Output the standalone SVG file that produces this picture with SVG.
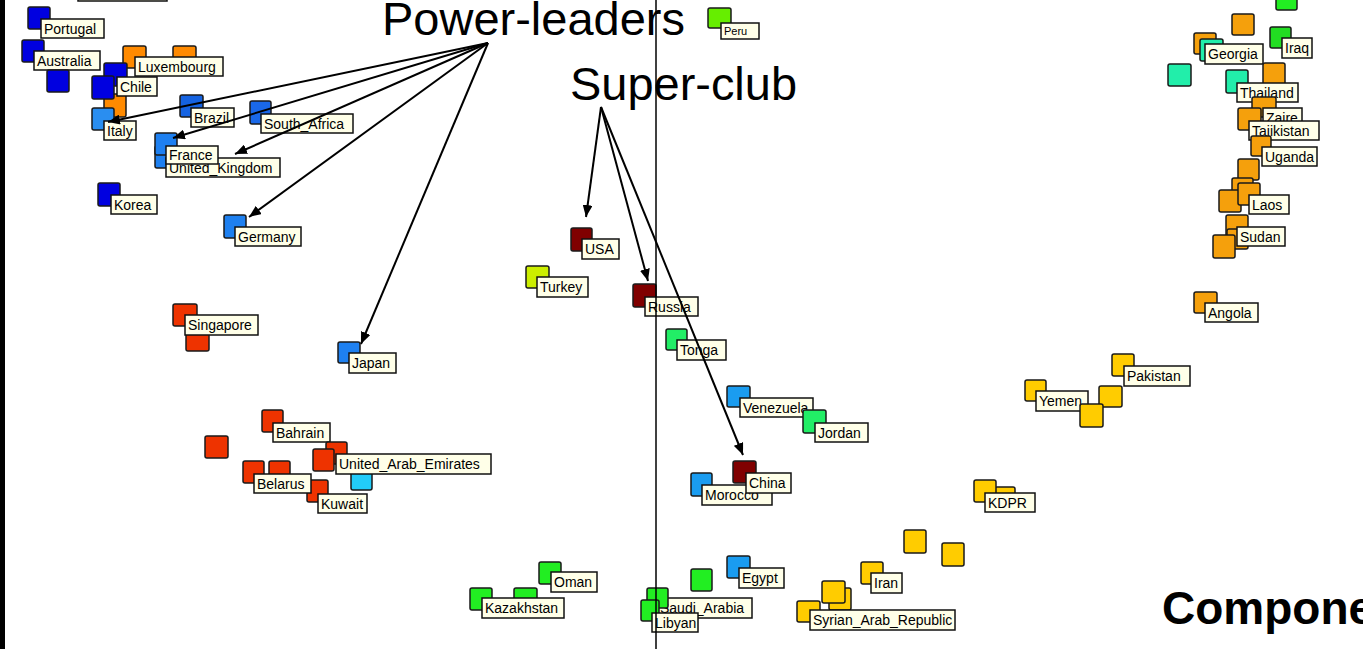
<svg xmlns="http://www.w3.org/2000/svg" width="1363" height="649" viewBox="0 0 1363 649">
<style>
.sq{stroke:#1a1a1a;stroke-width:1.5}
.lb{fill:#ffffe8;stroke:#111;stroke-width:1.5}
.lt{font-family:"Liberation Sans",Arial,sans-serif;font-size:14px;fill:#000}
.sm{font-size:11px}
.db{fill:#0000e0}.mb{fill:#1563e2}.lbl{fill:#1e80f0}.sk{fill:#1a9cf0}
.or{fill:#ff8a00}.ro{fill:#f5a00c}.rd{fill:#ee3300}.cy{fill:#22ccf8}
.dr{fill:#800000}.yg{fill:#ccee00}.gr{fill:#22ee22}.pe{fill:#66ee00}
.tg{fill:#22ee66}.te{fill:#22eeaa}.ye{fill:#ffcc00}
.big{font-family:"Liberation Sans",Arial,sans-serif;font-size:46px;fill:#000}
.conn{stroke:#000;stroke-width:2;fill:none;marker-end:url(#ah)}
</style>
<defs>
<marker id="ah" markerUnits="userSpaceOnUse" markerWidth="12" markerHeight="10" refX="12" refY="5" orient="auto"><path d="M0,0 L12,5 L0,10 z" fill="#000"/></marker>
</defs>
<rect width="1363" height="649" fill="#fff"/>
<rect x="0" y="0" width="5" height="649" fill="#000"/>
<rect x="78" y="-18" width="89" height="19" class="lb"/>

<g id="left-cluster">
<g id="n-portugal"><rect x="28" y="7" width="22" height="22" rx="2" class="sq db"/><rect x="41" y="19" width="63" height="19" class="lb"/><text x="44" y="34" class="lt">Portugal</text></g>
<g id="n-australia"><rect x="22" y="40" width="22" height="22" rx="2" class="sq db"/><rect x="34" y="51" width="66" height="19" class="lb"/><text x="37" y="66" class="lt">Australia</text></g>
<g id="n-b1"><rect x="47" y="70" width="22" height="22" rx="2" class="sq db"/></g>
<g id="n-o1"><rect x="173" y="46" width="23" height="22" rx="2" class="sq or"/></g>
<g id="n-o2"><rect x="104" y="94" width="22" height="23" rx="2" class="sq or"/></g>
<g id="n-luxembourg"><rect x="123" y="46" width="23" height="22" rx="2" class="sq or"/><rect x="135" y="57" width="88" height="19" class="lb"/><text x="138" y="72" class="lt">Luxembourg</text></g>
<g id="n-b2"><rect x="104" y="63" width="23" height="23" rx="2" class="sq db"/></g>
<g id="n-chile"><rect x="92" y="76" width="22" height="23" rx="2" class="sq db"/><rect x="117" y="77" width="40" height="19" class="lb"/><text x="120" y="92" class="lt">Chile</text></g>
<g id="n-italy"><rect x="92" y="108" width="22" height="22" rx="2" class="sq" fill="#2a8ef0"/><rect x="104" y="121" width="32" height="19" class="lb"/><text x="107" y="136" class="lt">Italy</text></g>
<g id="n-brazil"><rect x="180" y="95" width="23" height="22" rx="2" class="sq mb"/><rect x="191" y="108" width="43" height="19" class="lb"/><text x="194" y="123" class="lt">Brazil</text></g>
<g id="n-south-africa"><rect x="250" y="101" width="21" height="23" rx="2" class="sq" fill="#1a68e8"/><rect x="261" y="114" width="92" height="19" class="lb"/><text x="264" y="129" class="lt">South_Africa</text></g>
<g id="n-uk"><rect x="155" y="146" width="22" height="22" rx="2" class="sq lbl"/><rect x="166" y="158" width="114" height="19" class="lb"/><text x="169" y="173" class="lt">United_Kingdom</text></g>
<g id="n-france"><rect x="155" y="133" width="22" height="22" rx="2" class="sq lbl"/><rect x="166" y="146" width="52" height="18" class="lb"/><text x="169" y="160" class="lt">France</text></g>
<g id="n-korea"><rect x="98" y="183" width="22" height="23" rx="2" class="sq db"/><rect x="111" y="195" width="46" height="19" class="lb"/><text x="114" y="210" class="lt">Korea</text></g>
<g id="n-germany"><rect x="224" y="215" width="22" height="23" rx="2" class="sq lbl"/><rect x="235" y="227" width="66" height="19" class="lb"/><text x="238" y="242" class="lt">Germany</text></g>
<g id="n-singapore"><rect x="173" y="304" width="24" height="22" rx="2" class="sq rd"/><rect x="186" y="329" width="23" height="22" rx="2" class="sq rd"/><rect x="185" y="315" width="73" height="20" class="lb"/><text x="188" y="330" class="lt">Singapore</text></g>
<g id="n-japan"><rect x="338" y="342" width="22" height="21" rx="2" class="sq lbl"/><rect x="349" y="353" width="47" height="20" class="lb"/><text x="352" y="368" class="lt">Japan</text></g>
</g>

<g id="red-cluster">
<g id="n-bahrain"><rect x="262" y="410" width="21" height="22" rx="2" class="sq rd"/><rect x="273" y="423" width="57" height="19" class="lb"/><text x="276" y="438" class="lt">Bahrain</text></g>
<g id="n-r1"><rect x="205" y="436" width="23" height="22" rx="2" class="sq rd"/></g>
<g id="n-cyan"><rect x="351" y="468" width="21" height="22" rx="2" class="sq cy"/></g>
<g id="n-uae"><rect x="326" y="442" width="21" height="22" rx="2" class="sq rd"/><rect x="313" y="449" width="21" height="22" rx="2" class="sq rd"/><rect x="336" y="454" width="155" height="20" class="lb"/><text x="339" y="469" class="lt">United_Arab_Emirates</text></g>
<g id="n-kuwait"><rect x="307" y="480" width="21" height="22" rx="2" class="sq rd"/><rect x="318" y="494" width="49" height="19" class="lb"/><text x="321" y="509" class="lt">Kuwait</text></g>
<g id="n-belarus"><rect x="243" y="461" width="21" height="22" rx="2" class="sq rd"/><rect x="269" y="461" width="21" height="22" rx="2" class="sq rd"/><rect x="254" y="474" width="57" height="19" class="lb"/><text x="257" y="489" class="lt">Belarus</text></g>
</g>

<g id="middle">
<g id="n-peru"><rect x="708" y="8" width="23" height="20" rx="2" class="sq pe"/><rect x="721" y="23" width="38" height="16" class="lb"/><text x="724" y="35" class="lt sm">Peru</text></g>
<g id="n-usa"><rect x="571" y="228" width="21" height="23" rx="2" class="sq dr"/><rect x="582" y="239" width="37" height="20" class="lb"/><text x="585" y="254" class="lt">USA</text></g>
<g id="n-turkey"><rect x="526" y="266" width="23" height="22" rx="2" class="sq yg"/><rect x="537" y="277" width="51" height="20" class="lb"/><text x="540" y="292" class="lt">Turkey</text></g>
<g id="n-russia"><rect x="633" y="284" width="23" height="23" rx="2" class="sq dr"/><rect x="645" y="297" width="53" height="19" class="lb"/><text x="648" y="312" class="lt">Russia</text></g>
<g id="n-tonga"><rect x="666" y="329" width="21" height="21" rx="2" class="sq tg"/><rect x="677" y="340" width="49" height="20" class="lb"/><text x="680" y="355" class="lt">Tonga</text></g>
<g id="n-venezuela"><rect x="727" y="386" width="23" height="21" rx="2" class="sq sk"/><rect x="740" y="398" width="73" height="19" class="lb"/><text x="743" y="413" class="lt">Venezuela</text></g>
<g id="n-jordan"><rect x="803" y="410" width="23" height="23" rx="2" class="sq tg"/><rect x="815" y="423" width="53" height="19" class="lb"/><text x="818" y="438" class="lt">Jordan</text></g>
<g id="n-morocco"><rect x="691" y="473" width="21" height="23" rx="2" class="sq sk"/><rect x="702" y="485" width="70" height="20" class="lb"/><text x="705" y="500" class="lt">Morocco</text></g>
<g id="n-china"><rect x="733" y="461" width="23" height="22" rx="2" class="sq dr"/><rect x="746" y="473" width="45" height="20" class="lb"/><text x="749" y="488" class="lt">China</text></g>
<g id="n-oman"><rect x="539" y="562" width="22" height="22" rx="2" class="sq gr"/><rect x="551" y="572" width="46" height="20" class="lb"/><text x="554" y="587" class="lt">Oman</text></g>
<g id="n-kazakhstan"><rect x="470" y="588" width="22" height="22" rx="2" class="sq gr"/><rect x="514" y="588" width="23" height="22" rx="2" class="sq gr"/><rect x="482" y="598" width="82" height="20" class="lb"/><text x="485" y="613" class="lt">Kazakhstan</text></g>
<g id="n-saudi"><rect x="657" y="598" width="95" height="20" class="lb"/><text x="660" y="613" class="lt">Saudi_Arabia</text><rect x="647" y="588" width="21" height="20" rx="2" class="sq gr"/></g>
<g id="n-libyan"><rect x="641" y="600" width="18" height="21" rx="2" class="sq gr"/><rect x="652" y="613" width="46" height="19" class="lb"/><text x="655" y="628" class="lt">Libyan</text></g>
<g id="n-g1"><rect x="691" y="569" width="21" height="22" rx="2" class="sq gr"/></g>
<g id="n-egypt"><rect x="727" y="556" width="23" height="22" rx="2" class="sq sk"/><rect x="739" y="568" width="45" height="20" class="lb"/><text x="742" y="583" class="lt">Egypt</text></g>
</g>

<g id="yellow-cluster">
<g id="n-y1"><rect x="904" y="530" width="22" height="23" rx="2" class="sq ye"/></g>
<g id="n-y2"><rect x="942" y="543" width="22" height="23" rx="2" class="sq ye"/></g>
<g id="n-iran"><rect x="861" y="562" width="22" height="22" rx="2" class="sq ye"/><rect x="871" y="573" width="31" height="20" class="lb"/><text x="874" y="588" class="lt">Iran</text></g>
<g id="n-syria"><rect x="829" y="588" width="22" height="22" rx="2" class="sq ye"/><rect x="822" y="581" width="23" height="22" rx="2" class="sq ye"/><rect x="797" y="601" width="23" height="21" rx="2" class="sq ye"/><rect x="810" y="610" width="145" height="20" class="lb"/><text x="813" y="625" class="lt">Syrian_Arab_Republic</text></g>
<g id="n-kdpr"><rect x="995" y="487" width="20" height="20" rx="2" class="sq ye"/><rect x="974" y="480" width="22" height="22" rx="2" class="sq ye"/><rect x="985" y="493" width="50" height="19" class="lb"/><text x="988" y="508" class="lt">KDPR</text></g>
<g id="n-yemen"><rect x="1025" y="380" width="21" height="21" rx="2" class="sq ye"/><rect x="1036" y="391" width="52" height="20" class="lb"/><text x="1039" y="406" class="lt">Yemen</text></g>
<g id="n-y3"><rect x="1099" y="386" width="23" height="21" rx="2" class="sq ye"/></g>
<g id="n-y4"><rect x="1080" y="404" width="23" height="23" rx="2" class="sq ye"/></g>
<g id="n-pakistan"><rect x="1112" y="354" width="22" height="22" rx="2" class="sq ye"/><rect x="1124" y="366" width="66" height="20" class="lb"/><text x="1127" y="381" class="lt">Pakistan</text></g>
<g id="n-angola"><rect x="1194" y="292" width="23" height="21" rx="2" class="sq ro"/><rect x="1205" y="303" width="53" height="19" class="lb"/><text x="1208" y="318" class="lt">Angola</text></g>
</g>

<g id="right-cluster">
<g id="n-g2"><rect x="1276" y="-12" width="21" height="22" rx="2" class="sq gr"/></g>
<g id="n-o3"><rect x="1232" y="14" width="22" height="21" rx="2" class="sq ro"/></g>
<g id="n-georgia"><rect x="1194" y="33" width="22" height="21" rx="2" class="sq ro"/><rect x="1200" y="39" width="23" height="22" rx="2" class="sq te"/><rect x="1205" y="44" width="58" height="20" class="lb"/><text x="1208" y="59" class="lt">Georgia</text></g>
<g id="n-iraq"><rect x="1270" y="27" width="21" height="21" rx="2" class="sq" fill="#22dd22"/><rect x="1282" y="38" width="30" height="20" class="lb"/><text x="1285" y="53" class="lt">Iraq</text></g>
<g id="n-t1"><rect x="1168" y="64" width="23" height="22" rx="2" class="sq te"/></g>
<g id="n-o4"><rect x="1263" y="63" width="22" height="22" rx="2" class="sq ro"/></g>
<g id="n-thailand"><rect x="1226" y="70" width="22" height="23" rx="2" class="sq te"/><rect x="1237" y="83" width="61" height="19" class="lb"/><text x="1240" y="98" class="lt">Thailand</text></g>
<g id="n-zaire"><rect x="1252" y="97" width="24" height="20" rx="2" class="sq ro"/><rect x="1238" y="108" width="23" height="22" rx="2" class="sq ro"/><rect x="1263" y="108" width="39" height="16" class="lb"/><text x="1266" y="123" class="lt">Zaire</text></g>
<g id="n-tajikistan"><rect x="1249" y="121" width="70" height="19" class="lb"/><text x="1252" y="136" class="lt">Tajikistan</text></g>
<g id="n-uganda"><rect x="1251" y="136" width="20" height="20" rx="2" class="sq ro"/><rect x="1262" y="147" width="55" height="19" class="lb"/><text x="1265" y="162" class="lt">Uganda</text></g>
<g id="n-o5"><rect x="1238" y="159" width="21" height="21" rx="2" class="sq ro"/></g>
<g id="n-o6"><rect x="1232" y="178" width="21" height="21" rx="2" class="sq ro"/></g>
<g id="n-o7"><rect x="1219" y="190" width="22" height="22" rx="2" class="sq ro"/></g>
<g id="n-laos"><rect x="1238" y="183" width="22" height="22" rx="2" class="sq ro"/><rect x="1249" y="195" width="40" height="19" class="lb"/><text x="1252" y="210" class="lt">Laos</text></g>
<g id="n-sudan"><rect x="1226" y="215" width="22" height="22" rx="2" class="sq ro"/><rect x="1227" y="229" width="21" height="20" rx="2" class="sq ro"/><rect x="1213" y="235" width="22" height="23" rx="2" class="sq ro"/><rect x="1237" y="227" width="48" height="19" class="lb"/><text x="1240" y="242" class="lt">Sudan</text></g>
</g>

<g id="titles">
<text x="382" y="35" class="big" textLength="303" lengthAdjust="spacingAndGlyphs">Power-leaders</text>
<text x="570" y="100" class="big" textLength="227" lengthAdjust="spacingAndGlyphs">Super-club</text>
<text x="1162" y="624" class="big" font-weight="bold">Compone</text>
</g>

<g id="connectors">
<line x1="488" y1="43" x2="108" y2="122" class="conn"/>
<line x1="488" y1="43" x2="173" y2="138" class="conn"/>
<line x1="488" y1="43" x2="235" y2="154" class="conn"/>
<line x1="488" y1="43" x2="249" y2="217" class="conn"/>
<line x1="488" y1="43" x2="361" y2="344" class="conn"/>
<line x1="601" y1="107" x2="586" y2="217" class="conn"/>
<line x1="601" y1="107" x2="648" y2="281" class="conn"/>
<line x1="601" y1="107" x2="743" y2="455" class="conn"/>
<line x1="656" y1="0" x2="656" y2="649" stroke="#000" stroke-width="1.5"/>
</g>
</svg>
